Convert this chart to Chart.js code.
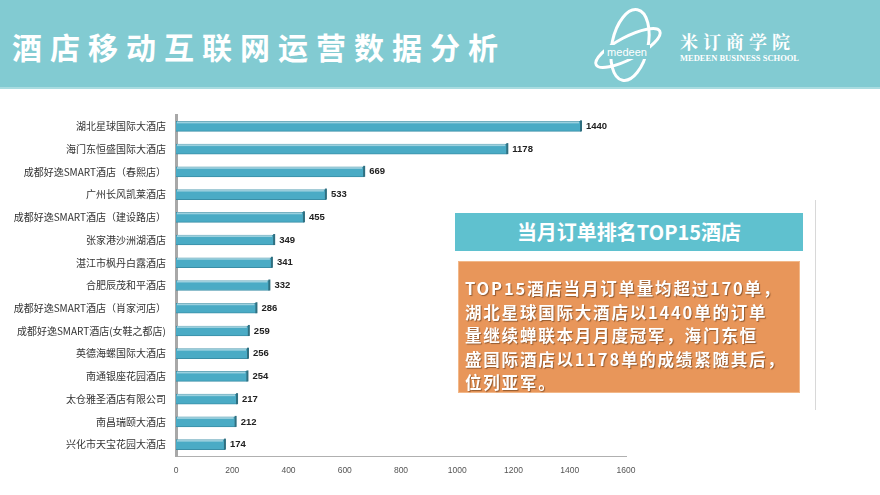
<!DOCTYPE html>
<html>
<head>
<meta charset="utf-8">
<script src="https://cdn.jsdelivr.net/npm/chart.js@4"></script>
<style>
  html, body { margin: 0; padding: 0; }
  body { width: 880px; height: 495px; position: relative; background: #fff; overflow: hidden;
         font-family: "Noto Sans CJK SC", sans-serif; }
  #header { position: absolute; left: 0; top: 0; width: 880px; height: 87px; background: #82cbd2;
            border-bottom: 2px solid #a9dce0; }
  #title { position: absolute; left: 12px; top: 26px; color: #fff; font-size: 30px; font-weight: bold;
           letter-spacing: 8px; line-height: 40px; }
  #logo { position: absolute; left: 590px; top: 6px; }
  #cn { position: absolute; left: 680px; top: 28px; color: #fff; font-family: "Noto Serif CJK SC", "Noto Sans CJK SC", serif;
        font-size: 18px; font-weight: bold; letter-spacing: 5px; }
  #en { position: absolute; left: 680px; top: 53px; color: #fff; font-family: "Liberation Serif", serif;
        font-size: 8.5px; font-weight: bold; letter-spacing: 0; }
  #wrap { position: absolute; left: 0; top: 100px; width: 650px; height: 390px; }
  #tag { position: absolute; left: 455px; top: 213px; width: 348px; height: 38px; background: #5fc1cf;
         color: #fff; font-weight: bold; font-size: 20px; line-height: 38px; text-align: center; }
  #note { position: absolute; left: 458px; top: 261px; width: 342px; height: 132px; background: #e8965a;
          border: 1px solid #f2b889; box-sizing: border-box; color: #fff; font-weight: bold; font-size: 16.5px;
          line-height: 23.5px; letter-spacing: 1.8px; padding: 15px 0 0 6px; white-space: nowrap;
          text-shadow: 1px 1px 1px rgba(90,50,20,0.6); }
  #edge { position: absolute; left: 815px; top: 200px; width: 1px; height: 210px; background: #d8d8d8; }
</style>
</head>
<body>
<div id="header">
  <div id="title">酒店移动互联网运营数据分析</div>
  <svg id="logo" width="80" height="78" viewBox="0 0 80 78">
    <ellipse cx="40" cy="39" rx="18" ry="36" fill="none" stroke="#fff" stroke-width="3" transform="rotate(12 40 39)"/>
    <ellipse cx="38" cy="42" rx="36" ry="11" fill="none" stroke="#fff" stroke-width="3" transform="rotate(-28 38 42)"/>
    <rect x="14" y="39" width="46" height="14" fill="#82cbd2"/>
    <text x="37" y="50" fill="#fff" font-family="Liberation Sans, sans-serif" font-size="11" text-anchor="middle">medeen</text>
  </svg>
  <div id="cn">米订商学院</div>
  <div id="en">MEDEEN BUSINESS SCHOOL</div>
</div>

<div id="wrap"><canvas id="mycanvas"></canvas></div>

<div id="tag">当月订单排名TOP15酒店</div>
<div id="note">TOP15酒店当月订单量均超过170单，<br>湖北星球国际大酒店以1440单的订单<br>量继续蝉联本月月度冠军，海门东恒<br>盛国际酒店以1178单的成绩紧随其后，<br>位列亚军。</div>
<div id="edge"></div>

<script>
const hotels = [
    '湖北星球国际大酒店',
    '海门东恒盛国际大酒店',
    '成都好逸SMART酒店（春熙店）',
    '广州长风凯莱酒店',
    '成都好逸SMART酒店（建设路店）',
    '张家港沙洲湖酒店',
    '湛江市枫丹白露酒店',
    '合肥辰茂和平酒店',
    '成都好逸SMART酒店（肖家河店）',
    '成都好逸SMART酒店(女鞋之都店)',
    '英德海螺国际大酒店',
    '南通银座花园酒店',
    '太仓雅圣酒店有限公司',
    '南昌瑞颐大酒店',
    '兴化市天宝花园大酒店'
];
const orders = [1440, 1178, 669, 533, 455, 349, 341, 332, 286, 259, 256, 254, 217, 212, 174];
const xTicks = [0, 200, 400, 600, 800, 1000, 1200, 1400, 1600];

// value labels + small dark cap at bar end
const barLabels = {
    id: 'barLabels',
    afterDatasetsDraw(chart) {
        const ctx = chart.ctx;
        const meta = chart.getDatasetMeta(0);
        ctx.save();
        meta.data.forEach((bar, i) => {
            const h = bar.height;
            ctx.fillStyle = '#2f6f80';
            ctx.fillRect(bar.x - 1, bar.y - h / 2 - 1, 2, h + 1);
            ctx.fillStyle = 'rgba(255,255,255,0.45)';
            ctx.fillRect(bar.base + 1, bar.y - h / 2, bar.x - bar.base - 3, 2);
            ctx.fillStyle = '#222';
            ctx.font = 'bold 9.5px "Liberation Sans", sans-serif';
            ctx.textBaseline = 'middle';
            ctx.fillText(orders[i], bar.x + 5, bar.y);
        });
        ctx.restore();
    }
};

const ctx = document.getElementById('mycanvas').getContext('2d');
const myChart = new Chart(ctx, {
    type: 'bar',
    data: {
        labels: hotels,
        datasets: [{
            data: orders,
            backgroundColor: '#4aabc5',
            borderColor: '#3a8ea6',
            borderWidth: 1,
            barThickness: 10
        }]
    },
    options: {
        indexAxis: 'y',
        responsive: true,
        maintainAspectRatio: false,
        animation: { duration: 0 },
        layout: { padding: { top: 15, right: 24, left: 0, bottom: 0 } },
        plugins: { legend: { display: false }, tooltip: { enabled: false } },
        scales: {
            x: {
                min: 0, max: 1600,
                afterBuildTicks: (s) => { s.ticks = xTicks.map(v => ({ value: v })); },
                afterFit: (s) => { s.height = 34; },
                grid: { display: false, drawTicks: true, tickLength: 4, color: '#b0b0b0' },
                border: { color: '#b0b0b0', width: 1 },
                ticks: { color: '#555', font: { size: 8.5, family: 'Liberation Sans' }, padding: 6, maxRotation: 0,
                         callback: (v) => String(v) }
            },
            y: {
                afterFit: (s) => { s.width = 176; },
                grid: { display: false, tickLength: 4, color: '#b0b0b0' },
                border: { color: '#a8a8a8', width: 3 },
                ticks: { color: '#333', font: { size: 10, family: 'Noto Sans CJK SC' }, padding: 6, autoSkip: false }
            }
        }
    },
    plugins: [barLabels]
});
</script>
</body>
</html>
